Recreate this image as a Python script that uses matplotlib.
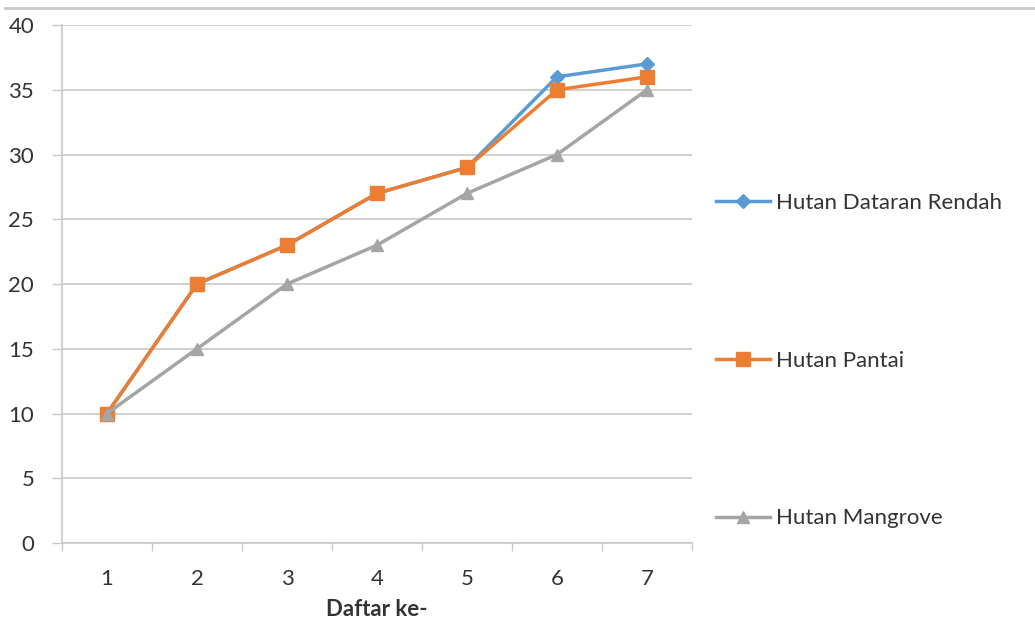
import matplotlib
import matplotlib.pyplot as plt
from matplotlib.lines import Line2D

matplotlib.use("Agg")

plt.rcParams["font.family"] = ["Lato", "DejaVu Sans"]

DAFTAR = [1, 2, 3, 4, 5, 6, 7]
DATARAN_RENDAH = [10, 20, 23, 27, 29, 36, 37]
PANTAI = [10, 20, 23, 27, 29, 35, 36]
MANGROVE = [10, 15, 20, 23, 27, 30, 35]
SERIES_NAMES = ["Hutan Dataran Rendah", "Hutan Pantai", "Hutan Mangrove"]

TEXT_COLOR = "#333333"
GRID_COLOR = "#c8c8c8"
FONT_SIZE = 16
STYLES = [
    ("#5b9bd5", "D", 7),
    ("#ed7d31", "s", 10),
    ("#a5a5a5", "^", 8.5),
]

fig = plt.figure(figsize=(10.35, 6.24), dpi=100)
ax = fig.add_axes([0.0599, 0.1298, 0.6087, 0.8301])

for values, (color, marker, size) in zip([DATARAN_RENDAH, PANTAI, MANGROVE], STYLES):
    ax.plot(DAFTAR, values, color=color, marker=marker, markersize=size, linewidth=2.5,
            markeredgecolor=color, zorder=3)

ax.set_xlim(0.5, 7.5)
ax.set_ylim(0, 40)
ax.set_yticks(range(0, 41, 5))
ax.set_xticks(DAFTAR)
ax.set_xticks([x + 0.5 for x in [0] + DAFTAR], minor=True)
ax.tick_params(axis="x", which="major", length=0, pad=19, labelsize=FONT_SIZE, labelcolor=TEXT_COLOR)
ax.tick_params(axis="x", which="minor", length=6, width=1, color=GRID_COLOR)
ax.tick_params(axis="y", length=7, width=1, color=GRID_COLOR, pad=13, labelsize=FONT_SIZE, labelcolor=TEXT_COLOR)
ax.grid(axis="y", color=GRID_COLOR, linewidth=1.2)
ax.set_axisbelow(True)
for side in ["top", "right"]:
    ax.spines[side].set_visible(False)
for side in ["left", "bottom"]:
    ax.spines[side].set_color(GRID_COLOR)
    ax.spines[side].set_linewidth(1.2)
ax.set_xlabel("Daftar ke-", fontsize=FONT_SIZE, fontweight="bold", color=TEXT_COLOR, labelpad=7)

handles = [
    Line2D([], [], color=color, marker=marker, markersize=size, linewidth=2.5, markeredgecolor=color)
    for color, marker, size in STYLES
]
fig.legend(handles, SERIES_NAMES, loc="upper left", bbox_to_anchor=(0.672, 0.723), frameon=False,
           fontsize=FONT_SIZE, labelcolor=TEXT_COLOR, handlelength=2.45, handletextpad=0.25, labelspacing=6.2)

# thin rule along the top edge
fig.add_artist(Line2D([0.005, 1.0], [0.987, 0.987], color="#c8c8c8", linewidth=2, transform=fig.transFigure))

fig.savefig("out.png", dpi=100)
